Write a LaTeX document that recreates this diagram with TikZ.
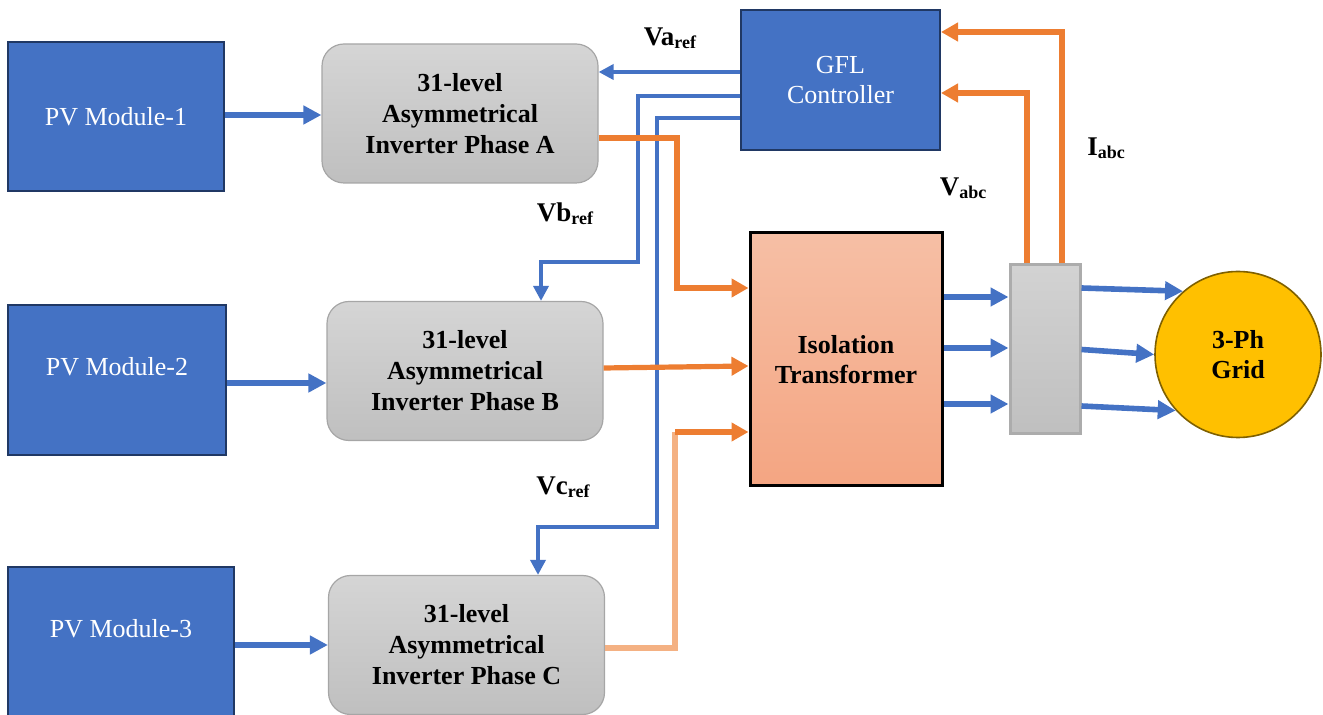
\documentclass[tikz,border=0pt]{standalone}
\usepackage{fontspec}
\setmainfont{Liberation Serif}
\usepackage{tikz}
\usetikzlibrary{arrows.meta,positioning,shapes.geometric}
\usepackage{xcolor}
\definecolor{pvblue}{HTML}{4472C4}
\definecolor{pvedge}{HTML}{203864}
\definecolor{pwrorange}{HTML}{ED7D31}
\definecolor{lightorange}{HTML}{F4B183}
\definecolor{trafotop}{HTML}{F6BFA5}
\definecolor{trafobot}{HTML}{F4A582}
\definecolor{gridgold}{HTML}{FFC000}
\definecolor{gridedge}{HTML}{7F6000}
\newcommand{\sigl}[2]{#1\raisebox{-1.5pt}{\fontsize{9}{9}\selectfont #2}}

\begin{document}
\begin{tikzpicture}[
  x=0.5pt, y=-0.5pt,
  pvbox/.style={draw=pvedge, line width=1pt, fill=pvblue, text=white, font=\fontsize{13}{15}\selectfont, align=center, inner sep=0pt},
  invbox/.style={draw=gray!70, line width=0.6pt, rounded corners=11pt, top color=gray!33, bottom color=gray!50, font=\bfseries\fontsize{13}{15.5}\selectfont, align=center, minimum width=138pt, minimum height=69.5pt, inner sep=0pt},
  lbl/.style={font=\bfseries\fontsize{13.5}{15}\selectfont, inner sep=0pt},
  barr/.style={draw=pvblue, line width=2.8pt, -{Triangle[length=9pt,width=9pt]}},
  carr/.style={draw=pvblue, line width=1.8pt, -{Triangle[length=7.5pt,width=7.5pt]}},
  oarr/.style={draw=pwrorange, line width=2.6pt, -{Triangle[length=8.5pt,width=9pt]}},
  oline/.style={draw=pwrorange, line width=2.6pt}
]
\useasboundingbox (0,0) rectangle (1323,715);

% sources and inverters
\node[pvbox, minimum width=108pt, minimum height=74.5pt] (pv1) at (116,116.5) {PV Module-1};
\node[pvbox, minimum width=109pt, minimum height=75pt, text depth=14pt] (pv2) at (117,380) {PV Module-2};
\node[pvbox, minimum width=113pt, minimum height=79pt, text depth=18pt] (pv3) at (121,646) {PV Module-3};

\node[invbox] (invA) at (460,113.5) {31-level\\Asymmetrical\\Inverter Phase A};
\node[invbox] (invB) at (465,371) {31-level\\Asymmetrical\\Inverter Phase B};
\node[invbox] (invC) at (466.5,645) {31-level\\Asymmetrical\\Inverter Phase C};

% controller, transformer, measurement, grid
\node[pvbox, minimum width=99.5pt, minimum height=70pt] (gfl) at (840.5,80) {GFL\\Controller};
\node[draw=black, line width=1.5pt, top color=trafotop, bottom color=trafobot, minimum width=96pt, minimum height=126.5pt, align=center, font=\bfseries\fontsize{13}{15}\selectfont] (trafo) at (846,359.5) {Isolation\\Transformer};
\node[draw=gray!65, line width=1.5pt, top color=gray!35, bottom color=gray!50, minimum width=35pt, minimum height=84.5pt] (meas) at (1045,349.5) {};
\node[circle, draw=gridedge, line width=0.8pt, fill=gridgold, minimum size=83pt, align=center, font=\bfseries\fontsize{13}{15}\selectfont] (grid) at (1238,354.5) {3-Ph\\Grid};

% labels
\node[lbl] (va) at (670,38) {\sigl{Va}{ref}};
\node[lbl] (vb) at (565,214) {\sigl{Vb}{ref}};
\node[lbl] (vc) at (563,487) {\sigl{Vc}{ref}};
\node[lbl] (vabc) at (963,188) {\sigl{V}{abc}};
\node[lbl] (iabc) at (1106,148) {\sigl{I}{abc}};

% dc power
\draw[barr] (pv1.east |- 0,115) -- (invA.west |- 0,115);
\draw[barr] (pv2.east |- 0,383) -- (invB.west |- 0,383);
\draw[barr] (pv3.east |- 0,645) -- (invC.west |- 0,645);

% reference signals
\draw[carr] (gfl.west |- 0,72) -- (invA.east |- 0,72);
\draw[carr] (gfl.west |- 0,96) -- (638,96) -- (638,262) -- (541,262) -- (invB.north -| 541,0);
\draw[carr] (gfl.west |- 0,118) -- (657,118) -- (657,527) -- (538,527) -- (invC.north -| 538,0);

% ac power
\draw[oarr] (invA.east |- 0,138) -- (677,138) -- (677,288) -- (trafo.west |- 0,288);
\draw[oarr] (invB.east |- 0,368) -- (trafo.west |- 0,366);
\coordinate (cbend) at (675,432);
\draw[draw=lightorange, line width=2.6pt] (invC.east |- 0,648) -- (675,648) -- (cbend);
\draw[oarr] (cbend) -- (trafo.west |- 0,432);

\foreach \y in {297,348,404}
  \draw[barr] (trafo.east |- 0,\y) -- (meas.west |- 0,\y);
\draw[barr] (meas.east |- 0,288) -- (grid.131);
\draw[barr] (meas.east) -- (grid.west);
\draw[barr] (meas.east |- 0,406) -- (grid.222);

% feedback
\draw[oarr] (meas.north -| 1027,0) -- (1027,93) -- (gfl.east |- 0,93);
\draw[oarr] (meas.north -| 1062,0) -- (1062,32) -- (gfl.east |- 0,32);
\end{tikzpicture}
\end{document}
